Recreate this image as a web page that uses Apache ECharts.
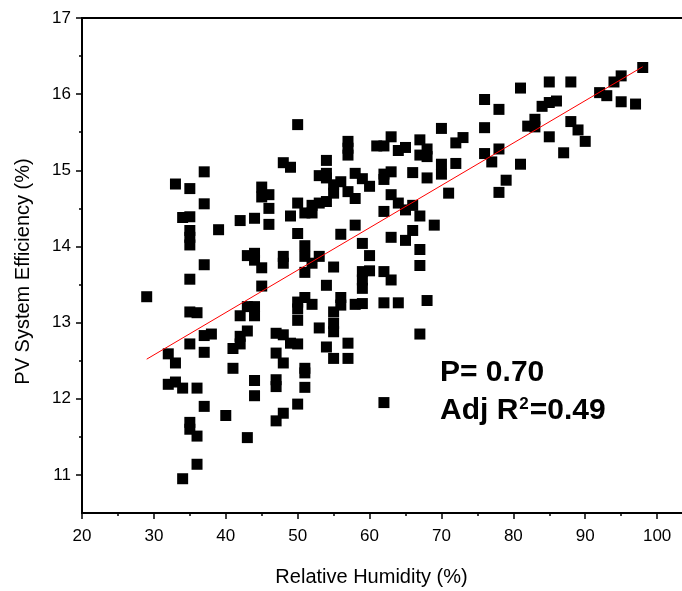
<!DOCTYPE html>
<html>
<head>
<meta charset="utf-8">
<script src="https://cdn.jsdelivr.net/npm/echarts@6/dist/echarts.min.js"></script>
<style>
html,body{margin:0;padding:0;background:#fff;}
#chart{width:682px;height:591px;}
</style>
</head>
<body>
<div id="chart"></div>
<script>
// Relative humidity (%) of each observation
const humidity = [
 37,33,35,45,46,48,45,
 50,70,73,72,63,61,62,64,65,67,67,68,68,57,57,57,54,49,53,54,54,55,56,58,59,60,62,63,62,66,68,70,70,72,71,57,55,58,63,
 98,95,94,92,93,95,97,85,88,81,76,78,84,85,86,83,82,83,76,88,89,90,85,87,76,78,77,81,79,78,
 37,34,35,35,35,35,39,42,44,46,46,43,44,44,45,37,35,29,45,35,36,43,44,42,44,37,38,35,42,43,42,41,37,32,33,41,47,47,
 32,33,34,36,44,44,47,47,37,40,35,35,36,43,47,36,34,
 51,51,50,48,62,
 49,50,51,52,53,54,52,62,64,65,66,67,69,66,65,67,67,63,58,56,59,60,50,51,51,52,53,51,48,48,55,54,59,60,59,59,62,63,
 50,50,51,52,56,56,55,58,59,62,64,68,50,53,55,55,48,49,50,54,57,67,55,57,48,51
];
// PV system efficiency (%) of each observation
const efficiency = [
 14.98,14.82,14.76,14.78,14.68,15.10,14.65,
 15.60,15.55,15.43,15.36,15.44,15.32,15.32,15.26,15.30,15.40,15.20,15.28,15.18,15.38,15.29,15.20,15.13,15.04,14.93,14.96,14.90,14.81,14.85,14.96,14.89,14.79,14.95,14.98,14.88,14.97,14.90,15.08,14.95,15.09,14.70,14.72,14.70,14.63,14.68,
 16.35,16.24,16.16,16.02,15.98,15.90,15.87,16.16,16.16,16.08,15.93,15.80,15.84,15.89,15.91,15.67,15.58,15.57,15.56,15.64,15.53,15.38,15.44,15.23,15.22,15.28,15.11,15.08,14.87,14.71,
 14.56,14.38,14.39,14.21,14.12,14.02,14.22,14.34,14.37,14.29,14.50,13.88,13.91,13.82,13.72,13.76,13.57,13.34,13.48,13.14,13.13,13.21,13.21,13.09,13.09,12.83,12.85,12.72,12.82,12.89,12.72,12.66,12.61,12.59,12.47,12.40,12.86,12.60,
 12.19,12.22,12.14,12.14,12.24,12.04,12.25,12.16,11.90,11.78,11.69,11.60,11.51,11.49,11.71,11.14,10.95,
 12.34,12.15,11.93,11.81,11.95,
 14.40,14.57,14.44,14.54,14.57,14.59,14.44,14.46,14.57,14.48,14.54,14.40,14.28,14.21,14.08,13.96,13.75,14.12,14.28,14.16,14.04,13.88,14.17,14.01,13.87,13.78,13.87,13.66,13.87,13.78,13.73,13.49,13.67,13.68,13.56,13.45,13.67,13.56,
 13.27,13.18,13.33,13.24,13.33,13.23,13.14,13.24,13.25,13.26,13.26,13.29,13.03,12.93,12.99,12.88,12.84,12.73,12.72,12.68,12.73,12.85,12.53,12.53,12.47,12.40
];
// Linear fit line end points
const fitX = [29, 98];
const fitY = [12.52, 16.36];
// Tick values
const xTicks = [20, 30, 40, 50, 60, 70, 80, 90, 100];
const yMajorTicks = [11, 12, 13, 14, 15, 16, 17];
const yMinorTicks = [11.5, 12.5, 13.5, 14.5, 15.5, 16.5];
const stats = {p: '0.70', r2: '0.49'};

const points = humidity.map((h, i) => [h, efficiency[i]]);
const fitLine = fitX.map((x, i) => [x, fitY[i]]);
const FONT = 'Liberation Sans, Arial, sans-serif';

const chart = echarts.init(document.getElementById('chart'), null, {renderer: 'canvas'});
chart.setOption({
  animation: false,
  backgroundColor: '#ffffff',
  grid: {left: 82, top: 18, width: 647, bottom: 78, containLabel: false, outerBoundsMode: 'none',
    show: true, borderColor: '#000', borderWidth: 2, backgroundColor: 'transparent'},
  xAxis: {
    type: 'value', min: 20, max: 110, interval: 10,
    name: 'Relative Humidity (%)', nameLocation: 'middle', nameGap: 54,
    nameTextStyle: {fontFamily: FONT, fontSize: 20, color: '#000', padding: [0, 68, 0, 0]},
    axisLine: {show: true, onZero: false, lineStyle: {color: '#000', width: 2}},
    axisTick: {show: true, length: 6, lineStyle: {color: '#000', width: 1.5}},
    minorTick: {show: true, splitNumber: 2, length: 3, lineStyle: {color: '#000', width: 1.5}},
    axisLabel: {fontFamily: FONT, fontSize: 17, color: '#000', margin: 15,
      formatter: v => xTicks.indexOf(v) >= 0 ? String(v) : ''},
    splitLine: {show: false}
  },
  yAxis: [{
    type: 'value', min: 10.5, max: 17,
    name: 'PV System Efficiency (%)', nameLocation: 'middle', nameGap: 49, nameRotate: 90,
    nameTextStyle: {fontFamily: FONT, fontSize: 20, color: '#000', padding: [0, 12, 0, 0]},
    axisLine: {show: true, onZero: false, lineStyle: {color: '#000', width: 2}},
    axisTick: {show: true, length: 6, customValues: yMajorTicks, lineStyle: {color: '#000', width: 1.5}},
    axisLabel: {fontFamily: FONT, fontSize: 17, color: '#000', margin: 11, customValues: yMajorTicks},
    splitLine: {show: false}
  }, {
    type: 'value', min: 10.5, max: 17, position: 'left',
    axisLine: {show: false},
    axisTick: {show: true, length: 3, customValues: yMinorTicks, lineStyle: {color: '#000', width: 1.5}},
    axisLabel: {show: false},
    splitLine: {show: false}
  }],
  series: [{
    type: 'scatter', data: points, symbol: 'rect', symbolSize: 11,
    itemStyle: {color: '#000', opacity: 1}, z: 2
  }, {
    type: 'line', data: fitLine, showSymbol: false, symbol: 'none',
    lineStyle: {color: '#ff0000', width: 1}, z: 3
  }],
  graphic: [{
    type: 'text', left: 440, top: 358,
    style: {text: 'P= ' + stats.p, font: 'bold 30px ' + FONT, fill: '#000'}
  }, {
    type: 'text', left: 440, top: 396,
    style: {
      text: '{a|Adj R}{b|2}{a|=' + stats.r2 + '}',
      rich: {
        a: {font: 'bold 30px ' + FONT, fill: '#000', color: '#000'},
        b: {font: 'bold 17px ' + FONT, fill: '#000', color: '#000', verticalAlign: 'top', padding: [0, 1, 12, 1]}
      }
    }
  }]
});
</script>
</body>
</html>
